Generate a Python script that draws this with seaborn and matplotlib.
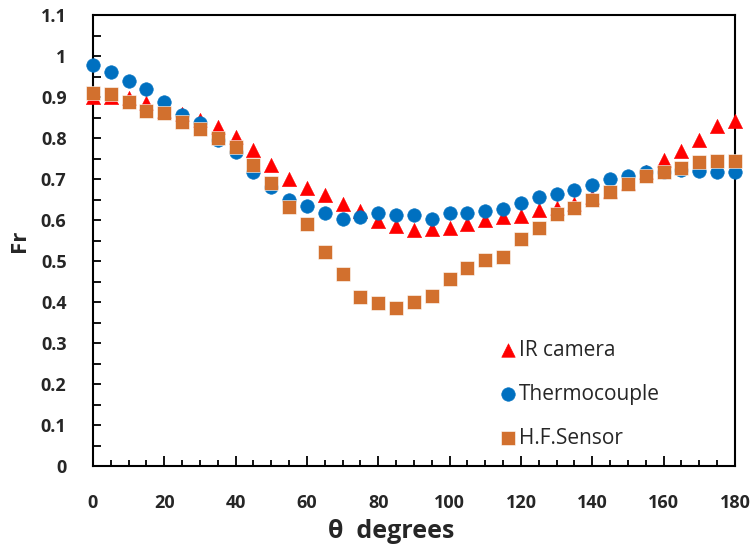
import numpy as np
import pandas as pd
import matplotlib
matplotlib.use("Agg")
import matplotlib.pyplot as plt
from matplotlib.ticker import MultipleLocator, FuncFormatter
import seaborn as sns

# Angle around the cylinder (degrees)
theta = list(range(0, 181, 5))

# Frössling number measured by each technique
ir_camera = [0.900, 0.900, 0.897, 0.885, 0.865, 0.859, 0.844, 0.827, 0.802, 0.770,
             0.734, 0.700, 0.679, 0.660, 0.638, 0.623, 0.597, 0.585, 0.575, 0.578,
             0.580, 0.590, 0.599, 0.607, 0.610, 0.624, 0.630, 0.640, 0.655, 0.670,
             0.690, 0.716, 0.746, 0.769, 0.794, 0.829, 0.842]
thermocouple = [0.978, 0.962, 0.939, 0.920, 0.888, 0.856, 0.836, 0.795, 0.767, 0.718,
                0.681, 0.648, 0.634, 0.616, 0.602, 0.608, 0.616, 0.612, 0.612, 0.602,
                0.616, 0.618, 0.623, 0.626, 0.641, 0.657, 0.663, 0.673, 0.685, 0.699,
                0.707, 0.718, 0.718, 0.722, 0.720, 0.716, 0.716]
hf_sensor = [0.911, 0.907, 0.887, 0.866, 0.860, 0.840, 0.823, 0.799, 0.779, 0.734,
             0.691, 0.632, 0.590, 0.523, 0.468, 0.413, 0.398, 0.385, 0.401, 0.415,
             0.457, 0.484, 0.502, 0.511, 0.554, 0.581, 0.615, 0.630, 0.648, 0.669,
             0.687, 0.707, 0.718, 0.728, 0.742, 0.744, 0.744]

series_names = ["IR camera", "Thermocouple", "H.F.Sensor"]
series_colors = ["#FF0000", "#0070C0", "#D2702E"]
series_markers = ["^", "o", "s"]

df = pd.DataFrame({
    "theta": theta * 3,
    "Fr": ir_camera + thermocouple + hf_sensor,
    "series": sum([[n] * len(theta) for n in series_names], []),
})

sns.set_theme(style="ticks")
plt.rcParams["font.family"] = ["Open Sans", "DejaVu Sans"]

fig = plt.figure(figsize=(7.54, 5.5), dpi=100)
ax = fig.add_axes([0.1233, 0.1527, 0.8515, 0.82])

marker_size = {"^": 105, "o": 95, "s": 90}
for name, color, mk in zip(series_names, series_colors, series_markers):
    sub = df[df["series"] == name]
    sns.scatterplot(data=sub, x="theta", y="Fr", ax=ax, color=color, marker=mk,
                    s=marker_size[mk], linewidth=0.4,
                    edgecolor="white" if mk == "s" else color,
                    label=name, zorder=3, clip_on=False)

ax.set_xlim(0, 180)
ax.set_ylim(0, 1.1)
ax.xaxis.set_major_locator(MultipleLocator(20))
ax.xaxis.set_minor_locator(MultipleLocator(5))
ax.yaxis.set_major_locator(MultipleLocator(0.1))
ax.yaxis.set_minor_locator(MultipleLocator(0.05))
ax.yaxis.set_major_formatter(FuncFormatter(lambda v, p: f"{v:.1f}".rstrip("0").rstrip(".") if v else "0"))

for s in ax.spines.values():
    s.set_linewidth(1.5)
    s.set_color("black")

ax.tick_params(axis="both", which="both", direction="in", width=1.3, color="black")
ax.tick_params(axis="x", which="major", length=7, pad=20)
ax.tick_params(axis="x", which="minor", length=4)
ax.tick_params(axis="y", which="both", length=6, pad=19)
for lab in ax.get_xticklabels() + ax.get_yticklabels():
    lab.set_fontsize(13)
    lab.set_fontweight("bold")

ax.set_xlabel("θ  degrees", fontsize=18, fontweight="bold")
ax.xaxis.set_label_coords(0.464, -0.118)
ax.set_ylabel("Fr", fontsize=16, fontweight="bold", labelpad=8)

leg = ax.legend(loc="lower left", bbox_to_anchor=(0.617, 0.02), frameon=False,
                fontsize=15, labelspacing=1.1, handletextpad=0.05,
                handlelength=1.0, borderaxespad=0)
for h in leg.legend_handles:
    h.set_sizes([95])

fig.savefig("out.png", dpi=100, facecolor="white")
